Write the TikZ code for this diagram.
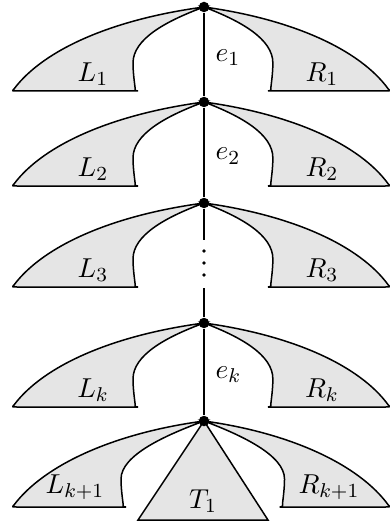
\documentclass[tikz,border=0pt]{standalone}
\usepackage{amsmath}
\usepackage{tikz}
\tikzset{
  subtree/.style={draw, fill=gray!20},
  vtx/.style={circle, fill, inner sep=0pt, minimum size=4.2pt},
  pics/side/.style 2 args={code={
    \draw[subtree] (0,0) .. controls (-90,12) and (-160,#1-42) .. (-190,#1-2)
      .. controls (-192,#1) .. (-187,#1) -- (-#2+5,#1)
      .. controls (-#2+2,#1) .. (-#2+2,#1-4)
      .. controls (-#2+1,#1-12) and (-#2,#1-20) .. (-#2,#1-28)
      .. controls (-#2,#1-52) and (-38,14) .. (0,0) -- cycle;
  }}
}

\begin{document}
\begin{tikzpicture}[x=0.4pt,y=-0.4pt,semithick,font=\fontsize{11}{13}\selectfont]
  \useasboundingbox (0,0) rectangle (390,526);
  % side subtrees
  \foreach \y/\n in {7/1,102/2,203/3,323/k}{
    \pic at (204,\y) {side={84}{71}};
    \pic[xscale=-0.97] at (204,\y) {side={84}{71}};
    \node (L\n) at (93,\y+67) {$L_\n$};
    \node (R\n) at (322,\y+67) {$R_\n$};
  }
  \pic at (204,421) {side={86}{83}};
  \pic[xscale=-0.97] at (204,421) {side={86}{83}};
  \draw[subtree] (204,421) -- (138,520) -- (268,520) -- cycle;
  \node (Lk1) at (75,487) {$L_{k+1}$};
  \node (Rk1) at (329,487) {$R_{k+1}$};
  \node (T1) at (203,501) {$T_1$};
  % spine
  \node[vtx] (v1) at (204,7) {};
  \node[vtx] (v2) at (204,102) {};
  \node[vtx] (v3) at (204,203) {};
  \node[vtx] (vk) at (204,323) {};
  \node[vtx] (vk1) at (204,421) {};
  \coordinate (gtop) at (204,240);
  \coordinate (gbot) at (204,288);
  \draw (v1) -- node[pos=0.54,right=1pt] (e1) {$e_1$} (v2);
  \draw (v2) -- node[pos=0.54,right=1pt] (e2) {$e_2$} (v3);
  \draw (vk) -- node[pos=0.53,right=1pt] (ek) {$e_k$} (vk1);
  \draw (v3) -- (gtop);
  \draw (gbot) -- (vk);
  \foreach \d in {251,263,275}
    \fill (204,\d) circle (0.75pt);
\end{tikzpicture}
\end{document}
